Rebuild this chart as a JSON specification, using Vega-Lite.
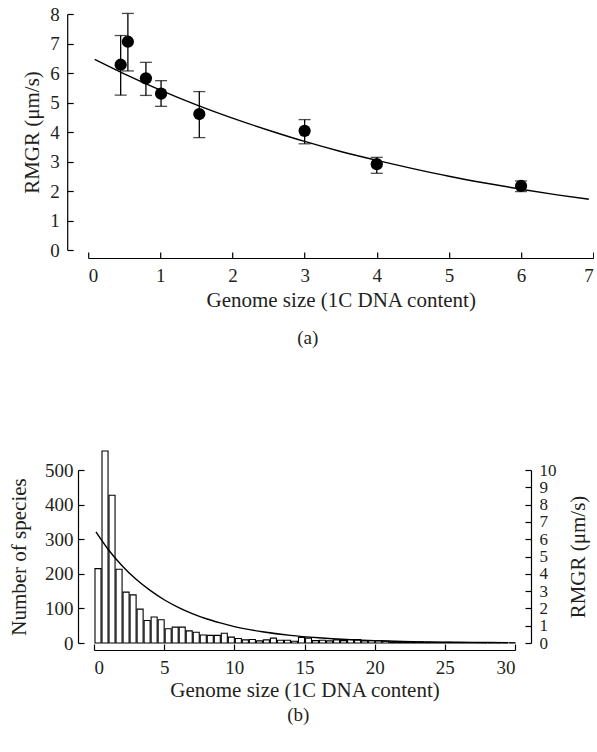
{
  "$schema": "https://vega.github.io/schema/vega-lite/v6.json",
  "padding": {"left": 8, "top": 5, "right": 0, "bottom": 4},
  "background": "white",
  "config": {
    "font": "Liberation Serif",
    "view": {"stroke": null},
    "axis": {
      "grid": false,
      "domainColor": "#000",
      "tickColor": "#000",
      "domainWidth": 1.2,
      "tickWidth": 1.2,
      "tickSize": -6,
      "labelColor": "#231f20",
      "titleColor": "#231f20",
      "labelFont": "Liberation Serif",
      "titleFont": "Liberation Serif",
      "labelFontSize": 19,
      "titleFontSize": 21,
      "titleFontWeight": "normal",
      "labelPadding": 12,
      "labelOverlap": false,
      "format": "d"
    },
    "title": {"font": "Liberation Serif", "fontSize": 19, "fontWeight": "normal", "color": "#231f20"}
  },
  "spacing": 102,
  "center": true,
  "vconcat": [
    {
      "width": 505,
      "height": 236,
      "title": {"text": "(a)", "orient": "bottom", "anchor": "middle", "frame": "bounds", "offset": 19},
      "layer": [
        {
          "data": {"name": "pts", "values": [
            {"g": 0.45, "r": 6.28, "lo": 5.25, "hi": 7.27},
            {"g": 0.55, "r": 7.06, "lo": 6.07, "hi": 8.02},
            {"g": 0.8, "r": 5.82, "lo": 5.24, "hi": 6.36},
            {"g": 1.01, "r": 5.30, "lo": 4.87, "hi": 5.74},
            {"g": 1.54, "r": 4.61, "lo": 3.81, "hi": 5.37},
            {"g": 3.0, "r": 4.04, "lo": 3.60, "hi": 4.42},
            {"g": 4.0, "r": 2.91, "lo": 2.60, "hi": 3.14},
            {"g": 6.0, "r": 2.17, "lo": 1.98, "hi": 2.34}
          ]},
          "mark": {"type": "rule", "color": "#000", "strokeWidth": 1.3},
          "encoding": {
            "x": {"field": "g", "type": "quantitative", "scale": {"domain": [0, 7]},
              "axis": {"title": "Genome size (1C DNA content)", "values": [0, 1, 2, 3, 4, 5, 6, 7], "offset": 8, "format": "d", "labelPadding": 14, "titlePadding": 4}},
            "y": {"field": "lo", "type": "quantitative", "scale": {"domain": [0, 8]},
              "axis": {"title": "RMGR (μm/s)", "values": [0, 1, 2, 3, 4, 5, 6, 7, 8], "offset": 21, "format": "d", "labelPadding": 14, "titlePadding": 7}},
            "y2": {"field": "hi"}
          }
        },
        {
          "data": {"name": "pts"},
          "mark": {"type": "tick", "orient": "horizontal", "color": "#000", "size": 12, "thickness": 1.3},
          "encoding": {
            "x": {"field": "g", "type": "quantitative", "scale": {"domain": [0, 7]},
              "axis": {"title": "Genome size (1C DNA content)", "values": [0, 1, 2, 3, 4, 5, 6, 7], "offset": 8, "format": "d", "labelPadding": 14, "titlePadding": 4}},
            "y": {"field": "lo", "type": "quantitative", "scale": {"domain": [0, 8]},
              "axis": {"title": "RMGR (μm/s)", "values": [0, 1, 2, 3, 4, 5, 6, 7, 8], "offset": 21, "format": "d", "labelPadding": 14, "titlePadding": 7}}
          }
        },
        {
          "data": {"name": "pts"},
          "mark": {"type": "tick", "orient": "horizontal", "color": "#000", "size": 12, "thickness": 1.3},
          "encoding": {
            "x": {"field": "g", "type": "quantitative", "scale": {"domain": [0, 7]},
              "axis": {"title": "Genome size (1C DNA content)", "values": [0, 1, 2, 3, 4, 5, 6, 7], "offset": 8, "format": "d", "labelPadding": 14, "titlePadding": 4}},
            "y": {"field": "hi", "type": "quantitative", "scale": {"domain": [0, 8]},
              "axis": {"title": "RMGR (μm/s)", "values": [0, 1, 2, 3, 4, 5, 6, 7, 8], "offset": 21, "format": "d", "labelPadding": 14, "titlePadding": 7}}
          }
        },
        {
          "data": {"values": [
            {"g": 0.09, "r": 6.46}, {"g": 0.5, "r": 5.97}, {"g": 1, "r": 5.42}, {"g": 1.5, "r": 4.92},
            {"g": 2, "r": 4.47}, {"g": 2.5, "r": 4.06}, {"g": 3, "r": 3.68}, {"g": 3.5, "r": 3.34},
            {"g": 4, "r": 3.04}, {"g": 4.5, "r": 2.76}, {"g": 5, "r": 2.50}, {"g": 5.5, "r": 2.27},
            {"g": 6, "r": 2.06}, {"g": 6.5, "r": 1.87}, {"g": 6.94, "r": 1.72}
          ]},
          "mark": {"type": "line", "color": "#000", "strokeWidth": 1.4, "interpolate": "monotone"},
          "encoding": {
            "x": {"field": "g", "type": "quantitative", "scale": {"domain": [0, 7]},
              "axis": {"title": "Genome size (1C DNA content)", "values": [0, 1, 2, 3, 4, 5, 6, 7], "offset": 8, "format": "d", "labelPadding": 14, "titlePadding": 4}},
            "y": {"field": "r", "type": "quantitative", "scale": {"domain": [0, 8]},
              "axis": {"title": "RMGR (μm/s)", "values": [0, 1, 2, 3, 4, 5, 6, 7, 8], "offset": 21, "format": "d", "labelPadding": 14, "titlePadding": 7}}
          }
        },
        {
          "data": {"name": "pts"},
          "mark": {"type": "circle", "color": "#000", "opacity": 1, "size": 150},
          "encoding": {
            "x": {"field": "g", "type": "quantitative", "scale": {"domain": [0, 7]},
              "axis": {"title": "Genome size (1C DNA content)", "values": [0, 1, 2, 3, 4, 5, 6, 7], "offset": 8, "format": "d", "labelPadding": 14, "titlePadding": 4}},
            "y": {"field": "r", "type": "quantitative", "scale": {"domain": [0, 8]},
              "axis": {"title": "RMGR (μm/s)", "values": [0, 1, 2, 3, 4, 5, 6, 7, 8], "offset": 21, "format": "d", "labelPadding": 14, "titlePadding": 7}}
          }
        }
      ]
    },
    {
      "width": 421,
      "height": 173,
      "title": {"text": "(b)", "orient": "bottom", "anchor": "middle", "frame": "bounds", "offset": 6},
      "layer": [
        {
          "data": {"values": [
            {"x0": 0, "x1": 0.5, "n": 215}, {"x0": 0.5, "x1": 1, "n": 555}, {"x0": 1, "x1": 1.5, "n": 427},
            {"x0": 1.5, "x1": 2, "n": 213}, {"x0": 2, "x1": 2.5, "n": 147}, {"x0": 2.5, "x1": 3, "n": 139},
            {"x0": 3, "x1": 3.5, "n": 98}, {"x0": 3.5, "x1": 4, "n": 65}, {"x0": 4, "x1": 4.5, "n": 75},
            {"x0": 4.5, "x1": 5, "n": 67}, {"x0": 5, "x1": 5.5, "n": 41}, {"x0": 5.5, "x1": 6, "n": 46},
            {"x0": 6, "x1": 6.5, "n": 46}, {"x0": 6.5, "x1": 7, "n": 35}, {"x0": 7, "x1": 7.5, "n": 31},
            {"x0": 7.5, "x1": 8, "n": 23}, {"x0": 8, "x1": 8.5, "n": 22}, {"x0": 8.5, "x1": 9, "n": 22},
            {"x0": 9, "x1": 9.5, "n": 28}, {"x0": 9.5, "x1": 10, "n": 17}, {"x0": 10, "x1": 10.5, "n": 13},
            {"x0": 10.5, "x1": 11, "n": 9}, {"x0": 11, "x1": 11.5, "n": 10}, {"x0": 11.5, "x1": 12, "n": 6},
            {"x0": 12, "x1": 12.5, "n": 9}, {"x0": 12.5, "x1": 13, "n": 14}, {"x0": 13, "x1": 13.5, "n": 8},
            {"x0": 13.5, "x1": 14, "n": 8}, {"x0": 14, "x1": 14.5, "n": 5}, {"x0": 14.5, "x1": 15, "n": 16},
            {"x0": 15, "x1": 15.5, "n": 14}, {"x0": 15.5, "x1": 16, "n": 7}, {"x0": 16, "x1": 16.5, "n": 8},
            {"x0": 16.5, "x1": 17, "n": 6}, {"x0": 17, "x1": 17.5, "n": 9}, {"x0": 17.5, "x1": 18, "n": 7},
            {"x0": 18, "x1": 18.5, "n": 10}, {"x0": 18.5, "x1": 19, "n": 10}, {"x0": 19, "x1": 19.5, "n": 6},
            {"x0": 19.5, "x1": 20, "n": 7}, {"x0": 20, "x1": 20.5, "n": 7}, {"x0": 20.5, "x1": 21, "n": 5},
            {"x0": 21, "x1": 21.5, "n": 3}, {"x0": 21.5, "x1": 22, "n": 3}, {"x0": 22, "x1": 22.5, "n": 2},
            {"x0": 22.5, "x1": 23, "n": 2}, {"x0": 23, "x1": 23.5, "n": 3}, {"x0": 23.5, "x1": 24, "n": 2},
            {"x0": 24, "x1": 24.5, "n": 1}, {"x0": 24.5, "x1": 25, "n": 1}, {"x0": 25, "x1": 25.5, "n": 2},
            {"x0": 25.5, "x1": 26, "n": 1}, {"x0": 26, "x1": 26.5, "n": 1}, {"x0": 26.5, "x1": 27, "n": 1},
            {"x0": 27, "x1": 27.5, "n": 1}, {"x0": 27.5, "x1": 28, "n": 1}, {"x0": 28, "x1": 28.5, "n": 0},
            {"x0": 28.5, "x1": 29, "n": 1}, {"x0": 29, "x1": 29.5, "n": 0}, {"x0": 29.5, "x1": 30, "n": 1}
          ]},
          "mark": {"type": "bar", "fill": "#fff", "stroke": "#000", "strokeWidth": 1.1},
          "encoding": {
            "x": {"field": "x0", "type": "quantitative", "bin": {"binned": true, "step": 0.5}, "scale": {"domain": [0, 30]},
              "axis": {"title": "Genome size (1C DNA content)", "values": [0, 5, 10, 15, 20, 25, 30], "offset": 7, "format": "d", "labelPadding": 14, "titlePadding": 2}},
            "x2": {"field": "x1"},
            "y": {"field": "n", "type": "quantitative", "scale": {"domain": [0, 500]},
              "axis": {"title": "Number of species", "values": [0, 100, 200, 300, 400, 500], "offset": 16, "format": "d", "labelPadding": 11, "titlePadding": 15}},
            "y2": {"datum": 0}
          }
        },
        {
          "data": {"values": [
            {"g": 0.14, "r": 6.42}, {"g": 1, "r": 5.42}, {"g": 2, "r": 4.47}, {"g": 3, "r": 3.68},
            {"g": 4, "r": 3.04}, {"g": 5, "r": 2.50}, {"g": 6, "r": 2.06}, {"g": 7, "r": 1.70},
            {"g": 8, "r": 1.40}, {"g": 9, "r": 1.16}, {"g": 10, "r": 0.95}, {"g": 12, "r": 0.65},
            {"g": 14, "r": 0.44}, {"g": 16, "r": 0.30}, {"g": 18, "r": 0.20}, {"g": 20, "r": 0.14},
            {"g": 22, "r": 0.09}, {"g": 24, "r": 0.06}, {"g": 26, "r": 0.04}, {"g": 28, "r": 0.03},
            {"g": 29.5, "r": 0.02}
          ]},
          "mark": {"type": "line", "color": "#000", "strokeWidth": 1.4, "interpolate": "monotone"},
          "encoding": {
            "x": {"field": "g", "type": "quantitative", "scale": {"domain": [0, 30]},
              "axis": {"title": "Genome size (1C DNA content)", "values": [0, 5, 10, 15, 20, 25, 30], "offset": 7, "format": "d", "labelPadding": 14, "titlePadding": 2}},
            "y": {"field": "r", "type": "quantitative", "scale": {"domain": [0, 10]},
              "axis": {"orient": "right", "title": "RMGR (μm/s)", "values": [0, 1, 2, 3, 4, 5, 6, 7, 8, 9, 10], "offset": 16, "titleAngle": -90, "titleBaseline": "top", "labelPadding": 14, "labelFontSize": 17, "titlePadding": 11, "format": "d"}}
          }
        }
      ],
      "resolve": {"scale": {"y": "independent"}}
    }
  ]
}
